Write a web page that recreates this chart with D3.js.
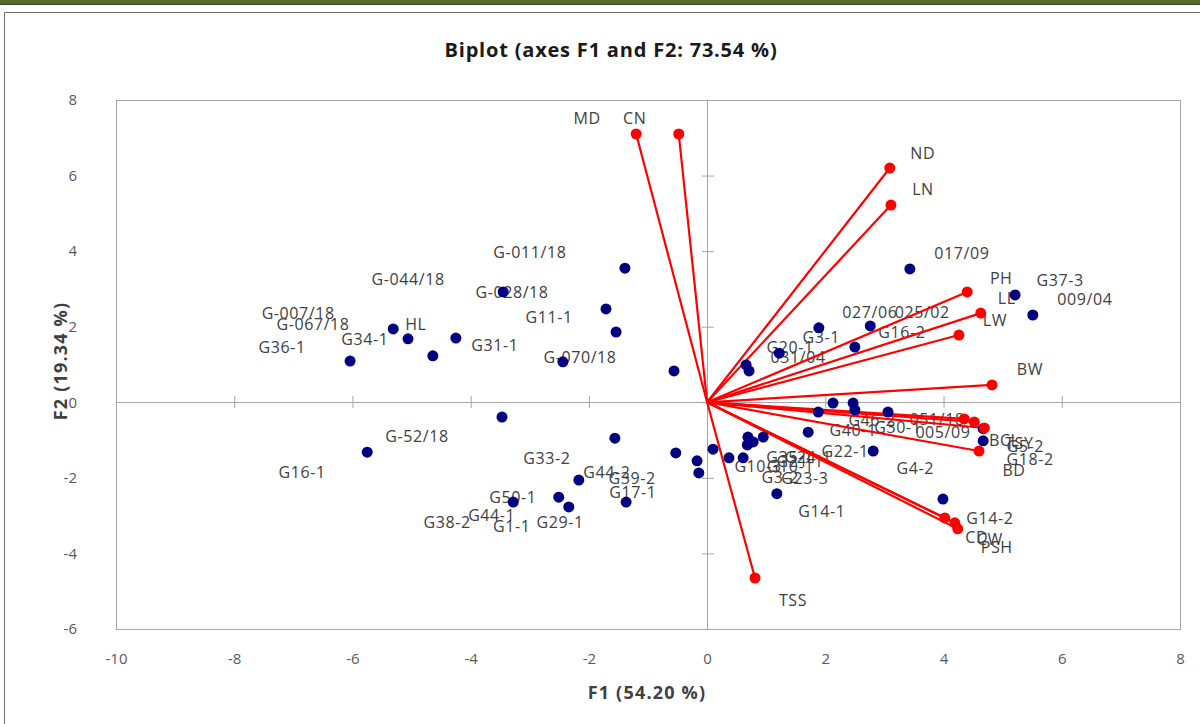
<!DOCTYPE html>
<html>
<head>
<meta charset="utf-8">
<script src="https://cdn.jsdelivr.net/npm/d3@7"></script>
<style>
  body { margin: 0; background: #fff; }
  svg { display: block; }
  text { font-family: "Open Sans", "Noto Sans", sans-serif; }
</style>
</head>
<body>
<script>
// chart size
var w = 1200;
var h = 724;

// observations (blue points): names and scores on F1 / F2
var obsNames = ["G-011/18","G-044/18","G-028/18","G11-1","G-007/18","G-067/18","HL","G34-1","G36-1","G31-1","G-070/18",
  "017/09","G37-3","009/04","027/06","025/02","G16-2","G3-1","G20-1","031/04",
  "G-52/18","G16-1","G33-2","G44-2","G39-2","G17-1","G50-1","G29-1","G44-1","G1-1","G38-2",
  "G40-1","G46-2","051/18","G30-1","005/09","G22-1","G4-2","G14-1","G14-2","G18-2","G5-2",
  "G35-1","G24-1","G21-1","G10-1","G10-3","G3-2","G23-3"];
var obsF1 = [-1.39,-3.45,-1.71,-1.54,-5.31,-5.06,-4.25,-4.64,-6.04,-2.44,-0.56,
  3.43,5.21,5.51,1.89,2.76,2.50,1.22,0.66,0.71,
  -3.47,-5.75,-1.56,-0.53,-0.17,-0.14,-2.17,-1.37,-2.51,-2.34,-3.28,
  1.88,2.13,2.47,2.50,3.06,1.71,2.81,1.18,3.99,4.67,4.67,
  0.69,0.95,0.78,0.68,0.10,0.61,0.37];
var obsF2 = [3.55,2.92,2.47,1.86,1.94,1.68,1.70,1.23,1.09,1.07,0.83,
  3.53,2.84,2.31,1.97,2.02,1.46,1.30,0.99,0.83,
  -0.39,-1.32,-0.95,-1.34,-1.55,-1.87,-2.06,-2.64,-2.51,-2.77,-2.64,
  -0.26,-0.02,-0.02,-0.20,-0.26,-0.79,-1.29,-2.42,-2.56,-1.02,-0.70,
  -0.92,-0.92,-1.05,-1.13,-1.24,-1.47,-1.47];

// variables (red vectors)
var varNames = ["MD","CN","ND","LN","PH","LL","LW","BW","","BCL","TSY","BD","CD","CW","PSH","TSS"];
var varF1 = [-1.20,-0.48,3.09,3.11,4.40,4.63,4.26,4.82,4.35,4.52,4.69,4.60,4.02,4.19,4.24,0.81];
var varF2 = [7.10,7.10,6.20,5.22,2.92,2.36,1.78,0.46,-0.44,-0.52,-0.68,-1.29,-3.06,-3.19,-3.35,-4.65];

// axis ticks
var xTicks = [-10,-8,-6,-4,-2,0,2,4,6,8];
var yTicks = [-6,-4,-2,0,2,4,6,8];

// label offsets in pixels (layout only), same order as the names
var obsNudge = [[-95,-16],[-95,-13],[-94,-17],[-67,-15],[-95,-16],[-95,-14],[-40,-14],[-68,-16],[-68,-14],[-68,-16],[-94,-14],
  [52,-16],[45,-15],[52,-16],[51,-15],[52,-14],[47,-15],[42,-16],[44,-17],[49,-14],
  [-85,19],[-65,20],[-68,20],[-69,19],[-65,18],[-66,19],[-66,17],[-66,20],[-67,18],[-57,19],[-66,20],
  [35,18],[39,17],[84,16],[43,18],[55,20],[37,19],[42,17],[45,18],[47,19],[47,19],[42,18],
  [42,20],[45,20],[47,19],[43,21],[45,17],[37,20],[76,21]];
var varNudge = [[-49,-16],[-44,-16],[33,-15],[32,-16],[34,-14],[26,-15],[36,-15],[38,-16],[0,0],
  [30,18],[35,15],[35,19],[32,19],[35,17],[39,19],[38,22]];

var observations = obsNames.map(function(n, i) {
  return {name: n, x: obsF1[i], y: obsF2[i], dx: obsNudge[i][0], dy: obsNudge[i][1]};
});
var variables = varNames.map(function(n, i) {
  return {name: n, x: varF1[i], y: varF2[i], dx: varNudge[i][0], dy: varNudge[i][1]};
});

// plot area
var plotL = 116, plotR = 1180, plotT = 100, plotB = 629;

var xScale = d3.scaleLinear().domain([-10, 8]).range([plotL, plotR]);
var yScale = d3.scaleLinear().domain([-6, 8]).range([plotB, plotT]);

var svg = d3.select("body").append("svg")
  .attr("width", w)
  .attr("height", h);

// page decoration: olive bar and outer frame
svg.append("rect").attr("x", 0).attr("y", 0).attr("width", w).attr("height", 4).attr("fill", "#56692b");
svg.append("line").attr("x1", 0).attr("x2", w).attr("y1", 4.5).attr("y2", 4.5).attr("stroke", "#3b4420").attr("stroke-width", 1);
svg.append("path")
  .attr("d", "M4.5," + h + "V12.5H" + w)
  .attr("fill", "none").attr("stroke", "#6b6b6b").attr("stroke-width", 1);

// plot frame
svg.append("rect")
  .attr("x", plotL + 0.5).attr("y", plotT + 0.5)
  .attr("width", plotR - plotL).attr("height", plotB - plotT)
  .attr("fill", "none").attr("stroke", "#a6a6a6");

var gridCol = "#a6a6a6";
var x0 = Math.round(xScale(0)), y0 = Math.round(yScale(0));

// zero lines
svg.append("line")
  .attr("x1", plotL).attr("x2", plotR)
  .attr("y1", y0 + 0.5).attr("y2", y0 + 0.5)
  .attr("stroke", gridCol);
svg.append("line")
  .attr("y1", plotT).attr("y2", plotB)
  .attr("x1", x0 + 0.5).attr("x2", x0 + 0.5)
  .attr("stroke", gridCol);

// crossing tick marks on the zero lines
var xTickAxis = d3.axisBottom(xScale).tickValues(xTicks).tickSize(12).tickFormat("");
var gxt = svg.append("g")
  .attr("transform", "translate(0," + (y0 - 6) + ")")
  .call(xTickAxis);
gxt.select(".domain").remove();
gxt.selectAll("line").attr("stroke", gridCol);

var yTickAxis = d3.axisLeft(yScale).tickValues(yTicks).tickSize(12).tickFormat("");
var gyt = svg.append("g")
  .attr("transform", "translate(" + (x0 + 7) + ",0)")
  .call(yTickAxis);
gyt.select(".domain").remove();
gyt.selectAll("line").attr("stroke", gridCol);

// tick labels (plain hyphen for negatives, like the original)
var plain = function(d) { return String(d); };

var xAxis = d3.axisBottom(xScale).tickValues(xTicks).tickSize(0).tickPadding(24).tickFormat(plain);
var gx = svg.append("g")
  .attr("transform", "translate(0," + plotB + ")")
  .call(xAxis);
gx.select(".domain").remove();
gx.selectAll("text").attr("font-size", 15).attr("fill", "#595959")
  .style("font-family", "'Open Sans', sans-serif");

var yAxis = d3.axisLeft(yScale).tickValues(yTicks).tickSize(0).tickPadding(39).tickFormat(plain);
var gy = svg.append("g")
  .attr("transform", "translate(" + plotL + ",0)")
  .call(yAxis);
gy.select(".domain").remove();
gy.selectAll("text").attr("font-size", 15).attr("fill", "#595959")
  .style("font-family", "'Open Sans', sans-serif");

// title and axis titles
svg.append("text")
  .attr("x", 611).attr("y", 57)
  .attr("text-anchor", "middle")
  .attr("font-size", 20).attr("font-weight", "bold").attr("fill", "#1a1a1a")
  .attr("letter-spacing", 0.8)
  .text("Biplot (axes F1 and F2: 73.54 %)");

svg.append("text")
  .attr("x", 647).attr("y", 699)
  .attr("text-anchor", "middle")
  .attr("font-size", 18).attr("font-weight", "bold").attr("fill", "#404040")
  .attr("letter-spacing", 1.2)
  .text("F1 (54.20 %)");

svg.append("text")
  .attr("transform", "translate(67,361) rotate(-90)")
  .attr("text-anchor", "middle")
  .attr("font-size", 18).attr("font-weight", "bold").attr("fill", "#404040")
  .attr("letter-spacing", 1.2)
  .text("F2 (19.34 %)");

// labels (drawn under the marks)
var labelG = svg.append("g").attr("font-size", 16).attr("fill", "#404040").attr("text-anchor", "middle");

labelG.selectAll("text.obs")
  .data(observations)
  .enter()
  .append("text")
  .attr("class", "obs")
  .attr("x", function(d) { return xScale(d.x) + d.dx; })
  .attr("y", function(d) { return yScale(d.y) + d.dy; })
  .attr("dy", "0.35em")
  .attr("letter-spacing", 0.6)
  .text(function(d) { return d.name; });

labelG.selectAll("text.var")
  .data(variables.filter(function(d) { return d.name !== ""; }))
  .enter()
  .append("text")
  .attr("class", "var")
  .attr("x", function(d) { return xScale(d.x) + d.dx; })
  .attr("y", function(d) { return yScale(d.y) + d.dy; })
  .attr("dy", "0.35em")
  .attr("letter-spacing", 0.6)
  .text(function(d) { return d.name; });

// vectors from the origin
svg.selectAll("line.vec")
  .data(variables)
  .enter()
  .append("line")
  .attr("class", "vec")
  .attr("x1", xScale(0)).attr("y1", yScale(0))
  .attr("x2", function(d) { return xScale(d.x); })
  .attr("y2", function(d) { return yScale(d.y); })
  .attr("stroke", "#ff0000")
  .attr("stroke-width", 2.2);

// observation points
svg.selectAll("circle.obs")
  .data(observations)
  .enter()
  .append("circle")
  .attr("class", "obs")
  .attr("cx", function(d) { return xScale(d.x); })
  .attr("cy", function(d) { return yScale(d.y); })
  .attr("r", 5.5)
  .attr("fill", "#000080");

// vector end markers
svg.selectAll("circle.var")
  .data(variables)
  .enter()
  .append("circle")
  .attr("class", "var")
  .attr("cx", function(d) { return xScale(d.x); })
  .attr("cy", function(d) { return yScale(d.y); })
  .attr("r", 5.5)
  .attr("fill", "#ff0000");
</script>
</body>
</html>
